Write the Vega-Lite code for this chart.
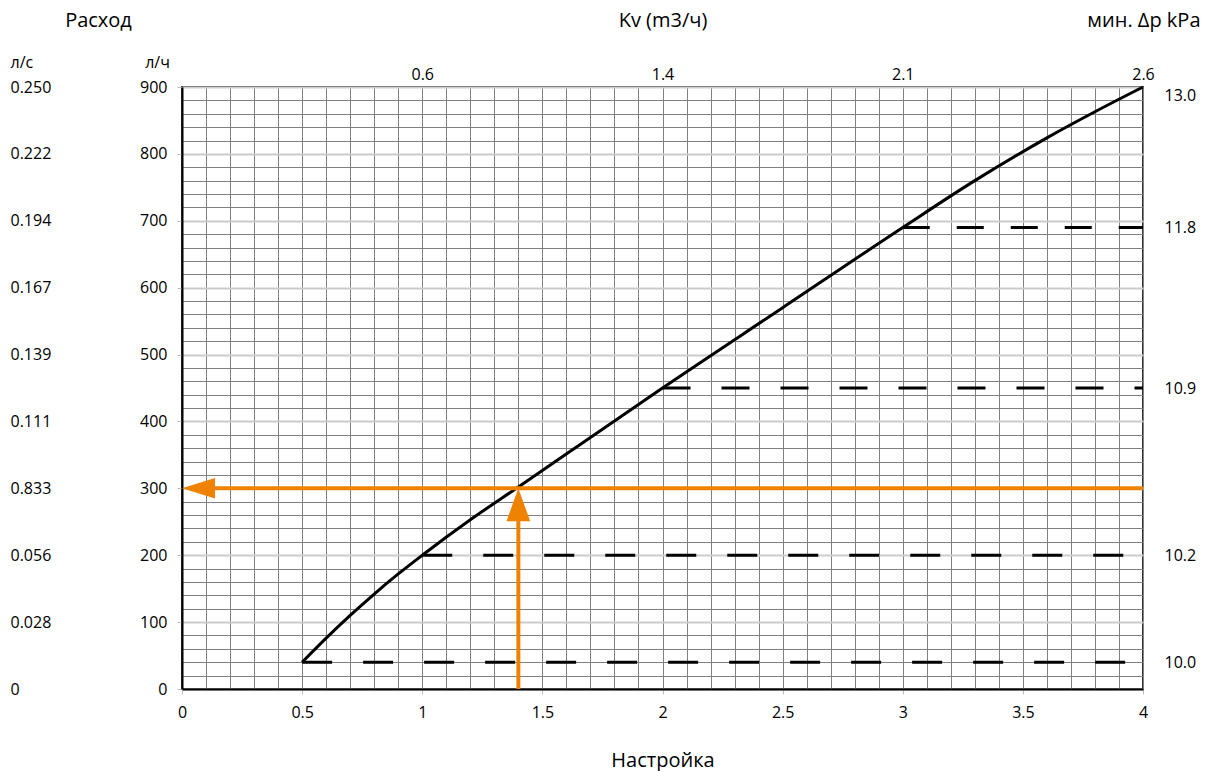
{
  "$schema": "https://vega.github.io/schema/vega-lite/v6.json",
  "width": 961,
  "height": 602,
  "autosize": {"type": "none"},
  "padding": {"left": 182, "top": 87, "right": 64, "bottom": 82},
  "background": "white",
  "config": {
    "font": "Open Sans",
    "view": {"stroke": "#333333", "strokeWidth": 2},
    "axis": {"labelFont": "Open Sans", "labelFontSize": 16, "labelColor": "#000000", "titleFont": "Open Sans", "titleFontSize": 20, "titleFontWeight": "normal", "titleColor": "#000000", "labelOverlap": false, "labelBound": false}
  },
  "datasets": {
    "curve": [
      {"s": 0.5, "q": 40}, {"s": 0.6, "q": 76}, {"s": 0.7, "q": 110}, {"s": 0.8, "q": 142}, {"s": 0.9, "q": 172},
      {"s": 1.0, "q": 200}, {"s": 1.2, "q": 253}, {"s": 1.4, "q": 302}, {"s": 1.7, "q": 376}, {"s": 2.0, "q": 450},
      {"s": 2.5, "q": 570}, {"s": 3.0, "q": 690}, {"s": 3.3, "q": 760}, {"s": 3.6, "q": 824}, {"s": 3.8, "q": 863}, {"s": 4.0, "q": 900}
    ],
    "dash": [
      {"line": "a", "s": 0.5, "q": 40}, {"line": "a", "s": 4, "q": 40},
      {"line": "b", "s": 1, "q": 200}, {"line": "b", "s": 4, "q": 200},
      {"line": "c", "s": 2, "q": 450}, {"line": "c", "s": 4, "q": 450},
      {"line": "d", "s": 3, "q": 690}, {"line": "d", "s": 4, "q": 690}
    ],
    "orange": [
      {"seg": "h", "s": 0.137, "q": 300}, {"seg": "h", "s": 4, "q": 300},
      {"seg": "v", "s": 1.4, "q": 0}, {"seg": "v", "s": 1.4, "q": 251}
    ],
    "arrows": [
      {"dir": "left", "s": 0, "q": 300},
      {"dir": "up", "s": 1.4, "q": 300}
    ]
  },
  "resolve": {"axis": {"x": "independent", "y": "independent"}},
  "layer": [
    {
      "data": {"name": "curve"},
      "mark": {"type": "line", "color": "#000000", "strokeWidth": 3, "interpolate": "monotone"},
      "encoding": {
        "x": {"field": "s", "type": "quantitative", "scale": {"domain": [0, 4], "nice": false, "zero": false},
          "axis": {"orient": "bottom", "title": "Настройка", "titleY": 71, "titleBaseline": "middle",
            "values": [0,0.1,0.2,0.3,0.4,0.5,0.6,0.7,0.8,0.9,1,1.1,1.2,1.3,1.4,1.5,1.6,1.7,1.8,1.9,2,2.1,2.2,2.3,2.4,2.5,2.6,2.7,2.8,2.9,3,3.1,3.2,3.3,3.4,3.5,3.6,3.7,3.8,3.9,4],
            "labelExpr": "round(datum.value*10)%5==0 ? toString(round(datum.value*10)/10) : ''",
            "labelFlush": false, "labelPadding": 10, "tickSize": 5, "tickColor": "#bbbbbb",
            "tickOpacity": {"condition": {"test": "round(datum.value*10)%5==0", "value": 1}, "value": 0},
            "grid": true, "gridColor": "#808080", "gridWidth": 1,
            "domainColor": "#000000", "domainWidth": 2}},
        "y": {"field": "q", "type": "quantitative", "scale": {"domain": [0, 900], "nice": false, "zero": false},
          "axis": {"orient": "left", "title": "л/ч", "titleAngle": 0, "titleX": -25, "titleY": -25, "titleAlign": "center", "titleBaseline": "middle", "titleFontSize": 16,
            "values": [0,20,40,60,80,100,120,140,160,180,200,220,240,260,280,300,320,340,360,380,400,420,440,460,480,500,520,540,560,580,600,620,640,660,680,700,720,740,760,780,800,820,840,860,880,900],
            "labelExpr": "datum.value % 100 === 0 ? datum.label : ''",
            "labelPadding": 10, "tickSize": 5, "tickColor": "#bbbbbb",
            "tickOpacity": {"condition": {"test": "datum.value % 100 === 0", "value": 1}, "value": 0},
            "grid": true,
            "gridColor": {"condition": {"test": "datum.value % 100 === 0", "value": "#cccccc"}, "value": "#808080"},
            "gridWidth": {"condition": {"test": "datum.value % 100 === 0", "value": 2}, "value": 1},
            "domainColor": "#000000", "domainWidth": 2}}
      }
    },
    {
      "data": {"name": "dash"},
      "mark": {"type": "line", "color": "#000000", "strokeWidth": 3},
      "encoding": {
        "x": {"field": "s", "type": "quantitative", "axis": null},
        "y": {"field": "q", "type": "quantitative",
          "axis": {"orient": "right", "title": "мин. Δp kPa", "titleAngle": 0, "titleX": 57, "titleY": -67, "titleAlign": "right", "titleBaseline": "middle",
            "values": [40, 200, 450, 690, 900],
            "labelExpr": "datum.value==40 ? '10.0' : datum.value==200 ? '10.2' : datum.value==450 ? '10.9' : datum.value==690 ? '11.8' : '13.0'",
            "labelFlush": true, "labelPadding": 21, "ticks": false, "tickSize": 0, "domain": false, "grid": false}},
        "detail": {"field": "line"},
        "strokeDash": {"field": "line", "type": "nominal", "scale": {"domain": ["a", "b", "c", "d"], "range": [[30, 31], [30, 31], [28, 31], [27, 27]]}, "legend": null}
      }
    },
    {
      "data": {"name": "orange"},
      "mark": {"type": "line", "color": "#EF8200", "strokeWidth": 4},
      "encoding": {
        "x": {"field": "s", "type": "quantitative", "axis": null},
        "y": {"field": "q", "type": "quantitative",
          "axis": {"orient": "left", "offset": 172, "title": "л/с", "titleAngle": 0, "titleX": 0, "titleY": -25, "titleAlign": "left", "titleBaseline": "middle", "titleFontSize": 16,
            "values": [0, 100, 200, 300, 400, 500, 600, 700, 800, 900],
            "labelExpr": "datum.value==0 ? '0' : datum.value==100 ? '0.028' : datum.value==200 ? '0.056' : datum.value==300 ? '0.833' : datum.value==400 ? '0.111' : datum.value==500 ? '0.139' : datum.value==600 ? '0.167' : datum.value==700 ? '0.194' : datum.value==800 ? '0.222' : '0.250'",
            "labelAlign": "left", "labelPadding": 0, "ticks": false, "tickSize": 0, "domain": false, "grid": false}},
        "detail": {"field": "seg"}
      }
    },
    {
      "data": {"name": "arrows"},
      "mark": {"type": "point", "filled": true, "opacity": 1, "color": "#EF8200", "strokeWidth": 0, "size": 1089},
      "encoding": {
        "x": {"field": "s", "type": "quantitative",
          "axis": {"orient": "top", "title": "Kv (m3/ч)", "titleY": -67, "titleBaseline": "middle",
            "values": [1, 2, 3, 4],
            "labelExpr": "datum.value==1 ? '0.6' : datum.value==2 ? '1.4' : datum.value==3 ? '2.1' : '2.6'",
            "labelFlush": false, "labelPadding": 5, "ticks": false, "tickSize": 0, "domain": false, "grid": false}},
        "y": {"field": "q", "type": "quantitative",
          "axis": {"orient": "left", "title": "Расход", "titleAngle": 0, "titleX": -84, "titleY": -67, "titleAlign": "center", "titleBaseline": "middle",
            "labels": false, "ticks": false, "domain": false, "grid": false}},
        "shape": {"field": "dir", "type": "nominal", "scale": {"domain": ["left", "up"], "range": ["M0,0L2,-0.62L2,0.62Z", "M0,0L-0.72,2L0.72,2Z"]}, "legend": null}
      }
    }
  ]
}
